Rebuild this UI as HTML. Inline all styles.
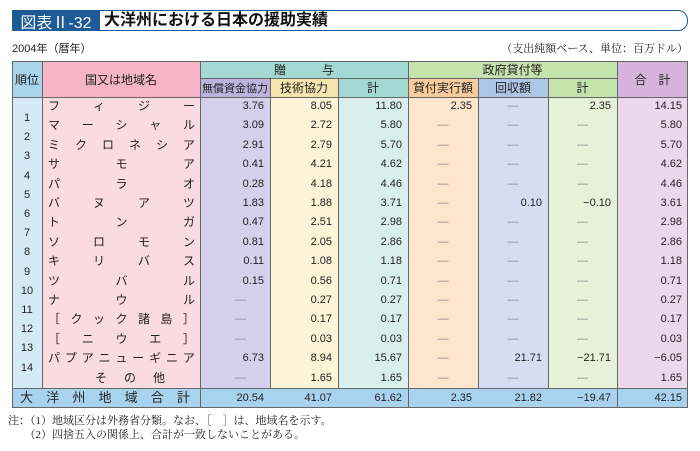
<!DOCTYPE html><html><head><meta charset="utf-8"><style>
body{margin:0;width:700px;height:451px;background:#fff;position:relative;overflow:hidden;font-family:"Liberation Sans","Noto Sans CJK JP",sans-serif;color:#222}
.a{position:absolute;box-sizing:border-box}
.c{display:flex;align-items:center;justify-content:center}
.r{position:absolute;text-align:right;font-size:11px;line-height:19.4px}
.d{color:#888}
.nm{position:absolute;left:48px;width:147px;display:flex;justify-content:space-between;font-size:12px;line-height:19.4px}
.vl{position:absolute;top:61px;height:347px;width:1px;background:#666}
</style></head><body>
<div class="a" style="left:12px;top:10px;width:676px;height:21px;border:1.5px solid #1e5a96;border-radius:0 10px 10px 0"></div>
<div class="a c" style="left:12px;top:10px;width:88px;height:21px;background:#1e5a96;color:#fff;font-size:16px">図表Ⅱ-32</div>
<div class="a" style="left:104px;top:10px;height:21px;line-height:21px;font-size:16px;font-weight:bold;color:#111">大洋州における日本の援助実績</div>
<div class="a" style="left:12px;top:40px;font-size:11px">2004年（暦年）</div>
<div class="a" style="right:12px;top:40px;font-size:11px;font-family:'Liberation Serif','Noto Serif CJK SC',serif">（支出純額ベース、単位：百万ドル）</div>
<div class="a c" style="left:12px;top:61px;width:30px;height:36px;background:#a9d6ea;font-size:12px">順位</div>
<div class="a c" style="left:42px;top:61px;width:158px;height:36px;background:#f5b5c6;font-size:12px">国又は地域名</div>
<div class="a c" style="left:200px;top:61px;width:208px;height:17px;background:#a3d9d2;font-size:12px">贈　　　与</div>
<div class="a c" style="left:200px;top:78px;width:70px;height:19px;background:#bcb4dc;font-size:11px">無償資金協力</div>
<div class="a c" style="left:270px;top:78px;width:68px;height:19px;background:#f5e6b0;font-size:12px">技術協力</div>
<div class="a c" style="left:338px;top:78px;width:70px;height:19px;background:#a3d9d2;font-size:12px">計</div>
<div class="a c" style="left:408px;top:61px;width:209px;height:17px;background:#c5e3ac;font-size:12px">政府貸付等</div>
<div class="a c" style="left:408px;top:78px;width:70px;height:19px;background:#f8cc9c;font-size:12px">貸付実行額</div>
<div class="a c" style="left:478px;top:78px;width:70px;height:19px;background:#aec6e8;font-size:12px">回収額</div>
<div class="a c" style="left:548px;top:78px;width:69px;height:19px;background:#c5e3ac;font-size:12px">計</div>
<div class="a c" style="left:617px;top:61px;width:71px;height:36px;background:#d5b3da;font-size:12px">合　計</div>
<div class="a" style="left:12px;top:97px;width:30px;height:291px;background:#d4ebf6"></div>
<div class="a" style="left:42px;top:97px;width:158px;height:291px;background:#fbdbe2"></div>
<div class="a" style="left:200px;top:97px;width:70px;height:291px;background:#d5d0eb"></div>
<div class="a" style="left:270px;top:97px;width:68px;height:291px;background:#fbf4d6"></div>
<div class="a" style="left:338px;top:97px;width:70px;height:291px;background:#d8efeb"></div>
<div class="a" style="left:408px;top:97px;width:70px;height:291px;background:#fde6cc"></div>
<div class="a" style="left:478px;top:97px;width:70px;height:291px;background:#d4ddf2"></div>
<div class="a" style="left:548px;top:97px;width:69px;height:291px;background:#e6f2d8"></div>
<div class="a" style="left:617px;top:97px;width:71px;height:291px;background:#ecd8ec"></div>
<div class="a" style="left:12px;top:388px;width:676px;height:20px;background:#a8d3ef;border-top:1px solid #666;border-bottom:1px solid #666"></div>
<div class="a" style="left:12px;top:61px;width:676px;height:347px;border:1px solid #666"></div>
<div class="a" style="left:12px;top:97px;width:676px;height:1px;background:#666"></div>
<div class="a" style="left:200px;top:78px;width:417px;height:1px;background:#666"></div>
<div class="vl" style="left:42px;height:327px"></div><div class="vl" style="left:200px"></div>
<div class="vl" style="left:270px;top:78px;height:310px"></div><div class="vl" style="left:338px;top:78px;height:310px"></div>
<div class="vl" style="left:408px"></div>
<div class="vl" style="left:478px;top:78px;height:310px"></div><div class="vl" style="left:548px;top:78px;height:310px"></div>
<div class="vl" style="left:617px"></div>
<div id="rows"></div>
<div class="nm" style="top:389px;line-height:18px;left:20px;width:170px;font-size:13px"><span>大</span><span>洋</span><span>州</span><span>地</span><span>域</span><span>合</span><span>計</span></div>
<div class="a" style="left:8px;top:414px;font-size:11px;line-height:14px;font-family:'Liberation Serif','Noto Serif CJK SC',serif">注：（1）地域区分は外務省分類。なお、［　］は、地域名を示す。<br>　　（2）四捨五入の関係上、合計が一致しないことがある。</div>
<script>
var names=["フィジー","マーシャル","ミクロネシア","サモア","パラオ","バヌアツ","トンガ","ソロモン","キリバス","ツバル","ナウル","［クック諸島］","［ニウエ］","パプアニューギニア","その他"];
var D=[["3.76","8.05","11.80","2.35","—","2.35","14.15"],["3.09","2.72","5.80","—","—","—","5.80"],["2.91","2.79","5.70","—","—","—","5.70"],["0.41","4.21","4.62","—","—","—","4.62"],["0.28","4.18","4.46","—","—","—","4.46"],["1.83","1.88","3.71","—","0.10","−0.10","3.61"],["0.47","2.51","2.98","—","—","—","2.98"],["0.81","2.05","2.86","—","—","—","2.86"],["0.11","1.08","1.18","—","—","—","1.18"],["0.15","0.56","0.71","—","—","—","0.71"],["—","0.27","0.27","—","—","—","0.27"],["—","0.17","0.17","—","—","—","0.17"],["—","0.03","0.03","—","—","—","0.03"],["6.73","8.94","15.67","—","21.71","−21.71","−6.05"],["—","1.65","1.65","—","—","—","1.65"],["20.54","41.07","61.62","2.35","21.82","−19.47","42.15"]];
var R=[270,338,408,478,548,617,688],L=[200,270,338,408,478,548,617];
var h="";
for(var i=0;i<16;i++){var t=i<15?97+19.4*i:389;
if(i<15){var n=names[i],s="";for(var k=0;k<n.length;k++)s+="<span>"+n[k]+"</span>";
var st=i==14?"left:95px;width:70px;":"";
h+='<div class="nm" style="top:'+t+'px;'+st+'">'+s+'</div>';}
for(var j=0;j<7;j++){var v=D[i][j],dash=v=="—";
var cent=dash&&j>=3&&j<=5;
h+='<div class="r'+(dash?' d':'')+'" style="top:'+t+'px;left:'+L[j]+'px;width:'+(R[j]-L[j]-6)+'px;'+(i==15?'line-height:18px;':'')+(cent?'text-align:center;width:'+(R[j]-L[j])+'px;':'')+(dash&&!cent?'padding-right:18px;box-sizing:border-box;':'')+'">'+v+'</div>';}}
for(var i=1;i<=14;i++)h+='<div class="a" style="left:12px;width:30px;text-align:center;font-size:11px;top:'+(109+19.2*(i-1))+'px;line-height:19px">'+i+'</div>';
document.getElementById("rows").innerHTML=h;
</script>
</body></html>
